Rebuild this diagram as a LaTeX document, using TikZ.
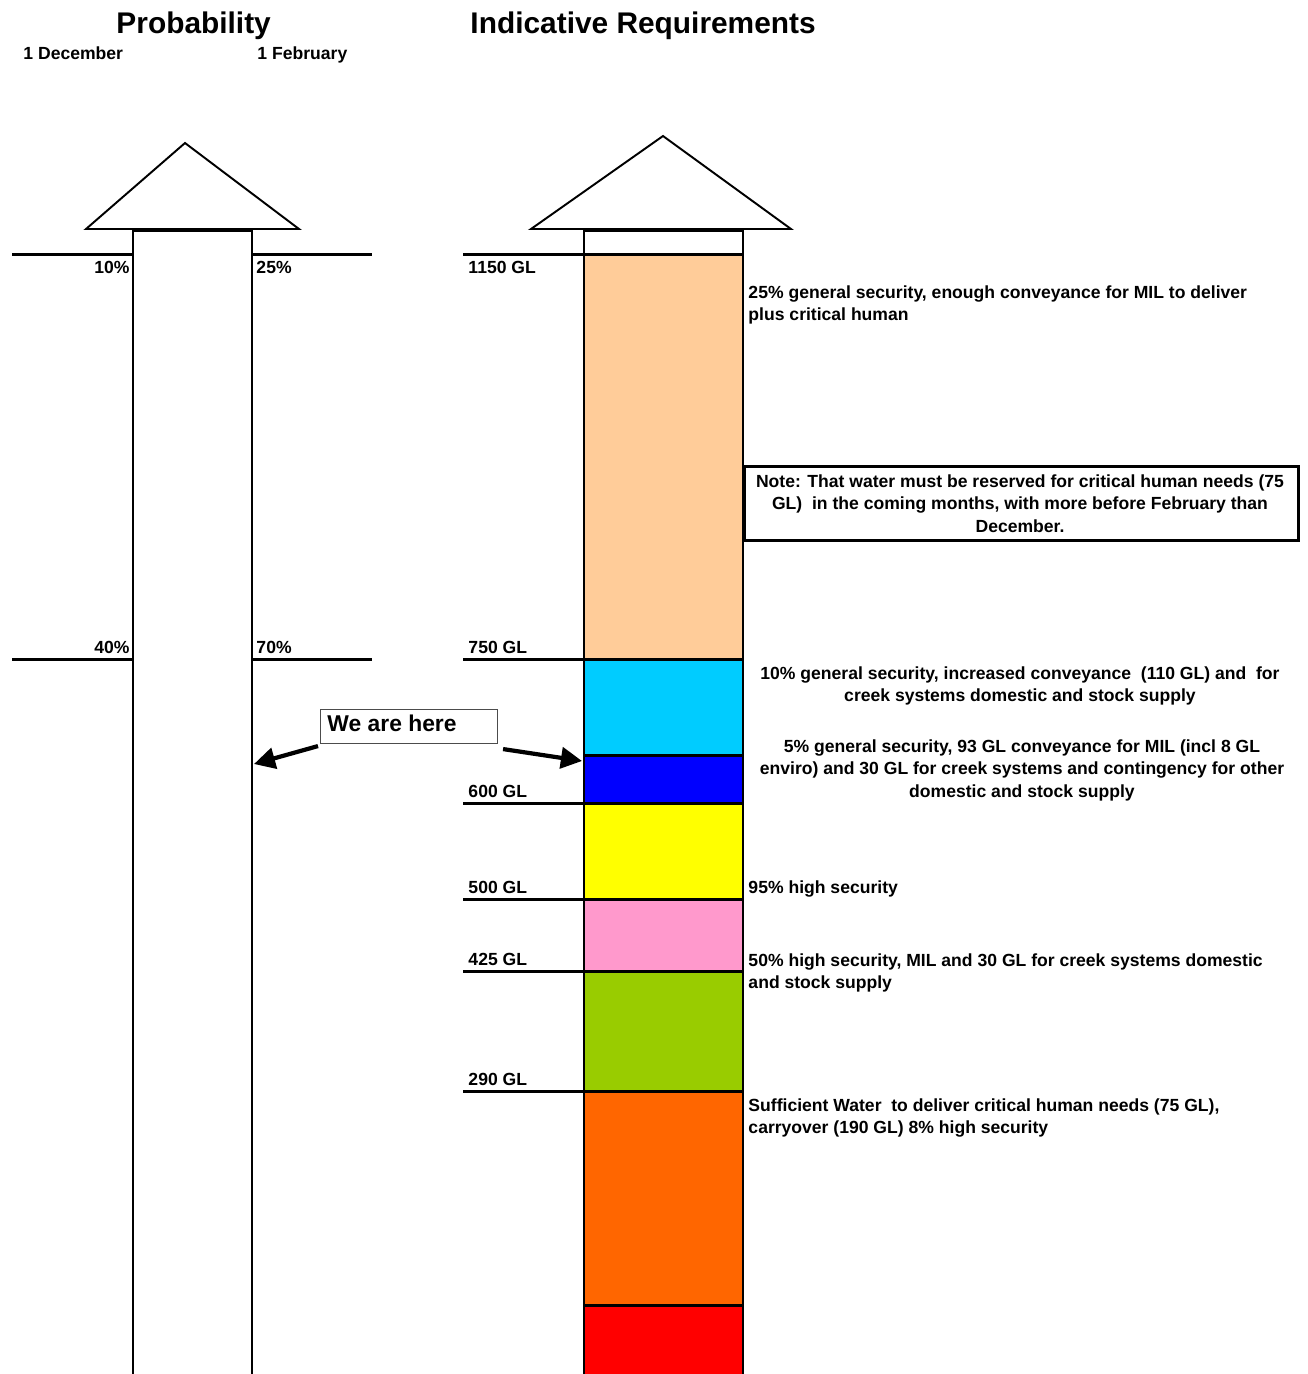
\documentclass[tikz,border=0pt]{standalone}
\usepackage{fontspec}
\setmainfont{Liberation Sans}
\usetikzlibrary{arrows.meta}

\definecolor{peach}{HTML}{FFCC99}
\definecolor{sky}{HTML}{00CCFF}
\definecolor{deepblue}{HTML}{0000FF}
\definecolor{lemon}{HTML}{FFFF00}
\definecolor{rose}{HTML}{FF99CC}
\definecolor{lime}{HTML}{99CC00}
\definecolor{tangerine}{HTML}{FF6600}
\definecolor{scarlet}{HTML}{FF0000}

\begin{document}
\begin{tikzpicture}[x=0.02cm, y=-0.02cm, line width=1.7pt,
  font=\bfseries\fontsize{10}{12.8}\selectfont,
  lbl/.style={inner sep=0, anchor=base west},
  rlbl/.style={inner sep=0, anchor=base east},
  desc/.style={inner sep=0, anchor=north west, align=left},
  cdesc/.style={inner sep=0, anchor=north, align=center},
  head/.style={line width=1.1pt, fill=white},
  pointer/.style={line width=2.4pt, -{Triangle[length=12pt, width=12pt]}}]
  \useasboundingbox (0,0) rectangle (1308,1374);

  % titles
  \node[lbl, font=\bfseries\fontsize{17}{20}\selectfont] (probtitle) at (115,33) {Probability};
  \node[lbl, font=\bfseries\fontsize{17}{20}\selectfont] (reqtitle) at (469,33) {Indicative Requirements};
  \node[lbl] (dec) at (22,59) {1 December};
  \node[lbl] (feb) at (256,59) {1 February};

  % probability arrow
  \draw[head] (86,229) -- (185,143) -- (299,229) -- cycle;
  \draw (133,1374) -- (133,230) -- (252,230) -- (252,1374);
  \draw (12,254) -- (133,254);
  \draw (252,254) -- (372,254);
  \draw (12,659) -- (133,659);
  \draw (252,659) -- (372,659);
  \node[rlbl] (p10) at (131,273) {10\%};
  \node[lbl] (p25) at (255,273) {25\%};
  \node[rlbl] (p40) at (131,653) {40\%};
  \node[lbl] (p70) at (255,653) {70\%};

  % requirements arrow
  \draw[head] (531,229) -- (663,136) -- (791,229) -- cycle;
  \draw[fill=white] (584,230) rectangle (743,254);
  \draw[fill=peach] (584,254) rectangle (743,659);
  \draw[fill=sky] (584,659) rectangle (743,755);
  \draw[fill=deepblue] (584,755) rectangle (743,803);
  \draw[fill=lemon] (584,803) rectangle (743,899);
  \draw[fill=rose] (584,899) rectangle (743,971);
  \draw[fill=lime] (584,971) rectangle (743,1091);
  \draw[fill=tangerine] (584,1091) rectangle (743,1305);
  \draw[fill=scarlet] (584,1305) -- (584,1380) -- (743,1380) -- (743,1305) -- cycle;

  % volume marks
  \foreach \y/\v/\b in {254/1150/273, 659/750/653, 803/600/797, 899/500/893, 971/425/965, 1091/290/1085} {
    \draw (463,\y) -- (584,\y);
    \node[lbl] (gl\v) at (467,\b) {\v\ GL};
  }

  % descriptions
  \node[desc] (d25) at (747,284) {25\% general security, enough conveyance for MIL to deliver\\plus critical human};
  \node[draw, line width=1.7pt, minimum width=554*0.02cm, minimum height=74*0.02cm, anchor=north west, inner sep=0] (note) at (743,465) {};
  \node[cdesc] (notetext) at (1020,473) {Note: That water must be reserved for critical human needs (75\\GL)\ \ in the coming months, with more before February than\\December.};
  \node[cdesc] (d10) at (1020,665) {10\% general security, increased conveyance\ \ (110 GL) and\ \ for\\creek systems domestic and stock supply};
  \node[cdesc] (d5) at (1022,738) {5\% general security, 93 GL conveyance for MIL (incl 8 GL\\enviro) and 30 GL for creek systems and contingency for other\\domestic and stock supply};
  \node[lbl] (d95) at (747,893) {95\% high security};
  \node[desc] (d50) at (747,952) {50\% high security, MIL and 30 GL for creek systems domestic\\and stock supply};
  \node[desc] (dsuff) at (747,1097) {Sufficient Water\ \ to deliver critical human needs (75 GL),\\carryover (190 GL) 8\% high security};

  % current position
  \node[draw=black!70, line width=0.6pt, minimum width=177*0.02cm, minimum height=34*0.02cm, anchor=north west, inner sep=0] (here) at (320,709) {};
  \node[lbl, font=\bfseries\fontsize{13}{15}\selectfont] (heretext) at (326,731) {We are here};
  \coordinate (probpos) at (254,764);
  \coordinate (reqpos) at (582,761);
  \draw[pointer] ([shift={(-2,2)}]here.south west) -- (probpos);
  \draw[pointer] ([shift={(5,5)}]here.south east) -- (reqpos);
\end{tikzpicture}
\end{document}
